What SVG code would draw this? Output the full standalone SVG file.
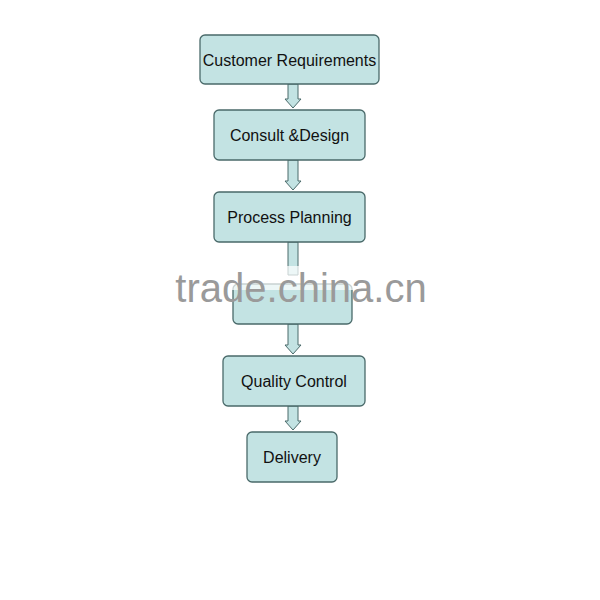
<svg xmlns="http://www.w3.org/2000/svg" width="600" height="600" viewBox="0 0 600 600">
<style>
.box{fill:#c3e3e3;stroke:#4a6a6a;stroke-width:1.3}
.lbl{font-family:"Liberation Sans",Arial,sans-serif;font-size:16px;fill:#111;text-anchor:middle}
.arr{fill:#c3e3e3;stroke:#4a6a6a;stroke-width:1}
</style>
<rect width="600" height="600" fill="#fff"/>
<g id="connectors">
<path class="arr" d="M288,84 V99 H285 L293,108 L301,99 H298 V84 Z"/>
<path class="arr" d="M288,160 V181 H285 L293,190 L301,181 H298 V160 Z"/>
<path class="arr" d="M288,242 V275 H298 V242 Z"/>
<path class="arr" d="M288,324 V345 H285 L293,354 L301,345 H298 V324 Z"/>
<path class="arr" d="M288,406 V421 H285 L293,430 L301,421 H298 V406 Z"/>
</g>
<g id="n1"><rect class="box" x="200" y="35" width="179" height="49" rx="5"/><text class="lbl" x="289.5" y="66">Customer Requirements</text></g>
<g id="n2"><rect class="box" x="214" y="110" width="151" height="50" rx="5"/><text class="lbl" x="289.5" y="141">Consult &amp;Design</text></g>
<g id="n3"><rect class="box" x="214" y="192" width="151" height="50" rx="5"/><text class="lbl" x="289.5" y="223">Process Planning</text></g>
<g id="n4"><rect class="box" x="233" y="284" width="119" height="40" rx="5"/></g>
<rect x="172" y="266" width="260" height="24" fill="#fff" opacity="0.7"/>
<g id="n5"><rect class="box" x="223" y="356" width="142" height="50" rx="5"/><text class="lbl" x="294" y="387">Quality Control</text></g>
<g id="n6"><rect class="box" x="247" y="432" width="90" height="50" rx="5"/><text class="lbl" x="292" y="463">Delivery</text></g>
<text x="301" y="302" font-family="'Liberation Sans',Arial,sans-serif" font-size="40" fill="#9a9a9a" text-anchor="middle">trade.china.cn</text>
</svg>
